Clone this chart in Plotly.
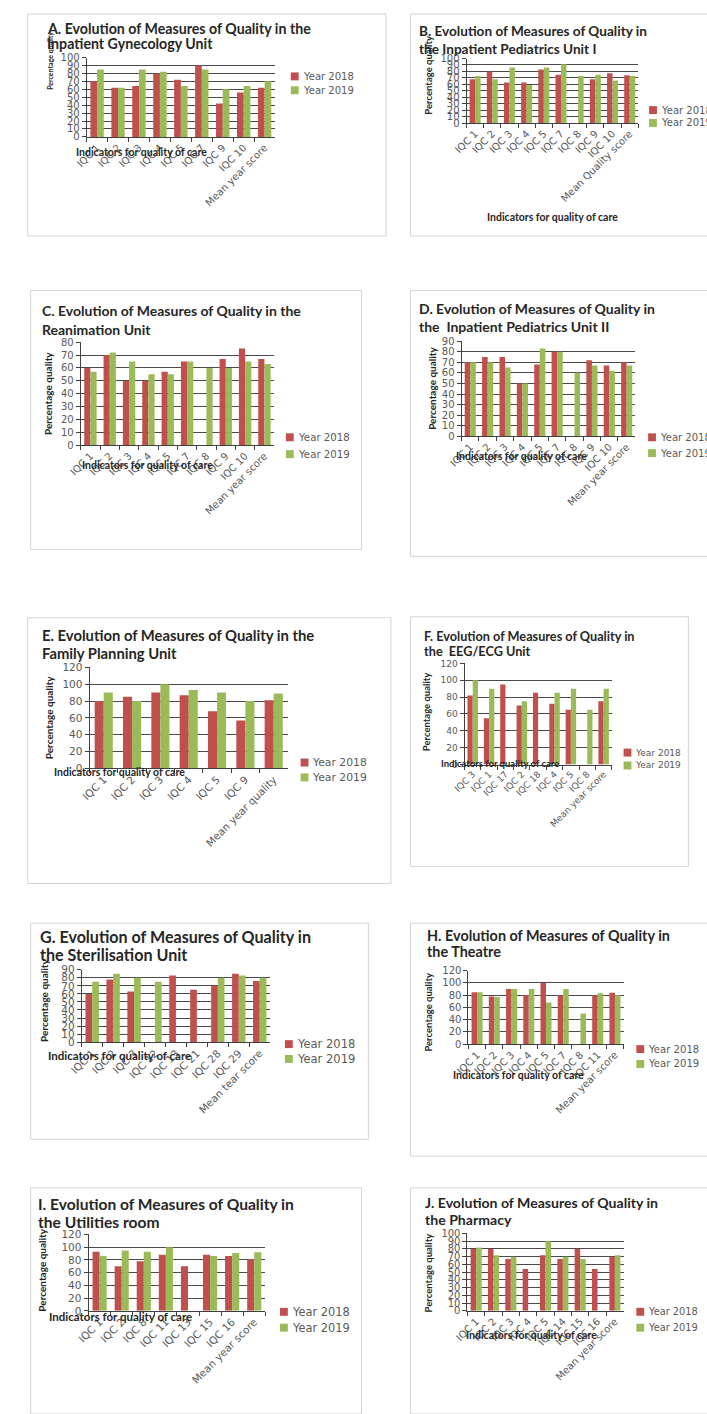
import plotly.graph_objects as go

# ---------------- data ----------------
cats_a = ["IQC 1", "IQC 2", "IQC 3", "IQC 4", "IQC 5", "IQC 7", "IQC 9", "IQC 10", "Mean year score"]
y2018_a = [70, 62, 64, 80, 72, 90, 42, 56, 62]
y2019_a = [85, 62, 85, 82, 64, 85, 60, 64, 70]

cats_b = ["IQC 1", "IQC 2", "IQC 3", "IQC 4", "IQC 5", "IQC 7", "IQC 8", "IQC 9", "IQC 10", "Mean Quality score"]
y2018_b = [68, 80, 63, 63, 83, 75, None, 68, 77, 74]
y2019_b = [73, 68, 86, 59, 86, 91, 73, 75, 66, 73]

cats_c = ["IQC 1", "IQC 2", "IQC 3", "IQC 4", "IQC 5", "IQC 7", "IQC 8", "IQC 9", "IQC 10", "Mean year score"]
y2018_c = [60, 70, 50, 50, 57, 65, None, 67, 75, 67]
y2019_c = [57, 72, 65, 55, 55, 65, 60, 60, 65, 63]

cats_d = ["IQC 1", "IQC 2", "IQC 3", "IQC 4", "IQC 5", "IQC 7", "IQC 8", "IQC 9", "IQC 10", "Mean year score"]
y2018_d = [70, 75, 75, 50, 68, 80, None, 72, 67, 70]
y2019_d = [70, 70, 65, 50, 83, 80, 60, 67, 62, 67]

cats_e = ["IQC 1", "IQC 2", "IQC 3", "IQC 4", "IQC 5", "IQC 9", "Mean year quality"]
y2018_e = [80, 85, 90, 87, 68, 57, 81]
y2019_e = [90, 80, 100, 93, 90, 80, 89]

cats_f = ["IQC 3", "IQC 1", "IQC 17", "IQC 2", "IQC 18", "IQC 4", "IQC 5", "IQC 8", "Mean year score"]
y2018_f = [82, 55, 95, 70, 85, 72, 65, None, 75]
y2019_f = [100, 90, None, 75, None, 85, 90, 65, 90]

cats_g = ["IQC 1", "IQC 2", "IQC 3", "IQC 12", "IQC 13", "IQC 21", "IQC 28", "IQC 29", "Mean tear score"]
y2018_g = [60, 78, 63, None, 83, 65, 70, 85, 76]
y2019_g = [75, 85, 80, 75, None, None, 80, 83, 80]

cats_h = ["IQC 1", "IQC 2", "IQC 3", "IQC 4", "IQC 5", "IQC 7", "IQC 8", "IQC 11", "Mean year score"]
y2018_h = [85, 78, 90, 80, 100, 80, None, 80, 84]
y2019_h = [85, 77, 90, 90, 68, 90, 50, 83, 80]

cats_i = ["IQC 1", "IQC 2", "IQC 8", "IQC 11", "IQC 13", "IQC 15", "IQC 16", "Mean year score"]
y2018_i = [93, 70, 78, 88, 70, 88, 86, 81]
y2019_i = [86, 95, 93, 100, None, 86, 91, 92]

cats_j = ["IQC 1", "IQC 2", "IQC 3", "IQC 4", "IQC 5", "IQC 14", "IQC 15", "IQC 16", "Mean year score"]
y2018_j = [80, 80, 67, 54, 72, 67, 80, 54, 70]
y2019_j = [82, 72, 70, None, 90, 70, 67, None, 72]

titles = [
    ("A. Evolution of Measures of Quality in the", "Inpatient Gynecology Unit"),
    ("B. Evolution of Measures of Quality in", "the Inpatient Pediatrics Unit I"),
    ("C. Evolution of Measures of Quality in the", "Reanimation Unit"),
    ("D. Evolution of Measures of Quality in", "the  Inpatient Pediatrics Unit II"),
    ("E. Evolution of Measures of Quality in the", "Family Planning Unit"),
    ("F. Evolution of Measures of Quality in", "the  EEG/ECG Unit"),
    ("G. Evolution of Measures of Quality in", "the Sterilisation Unit"),
    ("H. Evolution of Measures of Quality in", "the Theatre"),
    ("I. Evolution of Measures of Quality in", "the Utilities room"),
    ("J. Evolution of Measures of Quality in", "the Pharmacy"),
]
series_names = ["Year 2018", "Year 2019"]
y_title = "Percentage quality"
x_title = "Indicators for quality of care"

panels_data = [
    (cats_a, y2018_a, y2019_a), (cats_b, y2018_b, y2019_b),
    (cats_c, y2018_c, y2019_c), (cats_d, y2018_d, y2019_d),
    (cats_e, y2018_e, y2019_e), (cats_f, y2018_f, y2019_f),
    (cats_g, y2018_g, y2019_g), (cats_h, y2018_h, y2019_h),
    (cats_i, y2018_i, y2019_i), (cats_j, y2018_j, y2019_j),
]

# ---------------- geometry (pixels) ----------------
W, H = 707, 1414
# box, plot area (x0, x1, ytop, ybottom), y max, y step
geom = [
    dict(box=(15, 8, 380, 232), plot=(75, 267, 52, 132), ymax=100, dtick=10,
         title=(33, 23, 38, 14.2), yt=(37, 55, 7), xt=(131, 147, 10.5), leg=(283, 71, 85, 10), tf=10),
    dict(box=(405, 8, 720, 232), plot=(462, 637, 53, 118), ymax=100, dtick=10,
         title=(412, 25, 43, 13.6), yt=(423, 70, 9.5), xt=(550, 213, 10.5), leg=(648, 105, 118, 10), tf=10),
    dict(box=(18, 287, 355, 548), plot=(69, 266, 339, 443), ymax=80, dtick=10,
         title=(27, 307, 326, 14.0), yt=(35, 391, 10), xt=(137, 463, 10.5), leg=(278, 435, 452, 10.2), tf=10),
    dict(box=(405, 287, 720, 555), plot=(457, 634, 338, 434), ymax=90, dtick=10,
         title=(412, 305, 323, 14.0), yt=(427, 386, 10), xt=(518, 454, 10.5), leg=(647, 435, 451, 10), tf=10),
    dict(box=(15, 617, 385, 885), plot=(78, 280, 667, 769), ymax=120, dtick=20,
         title=(28, 634, 653, 14.8), yt=(37, 718, 10), xt=(108, 773, 10.5), leg=(293, 763, 778, 10.8), tf=10.5),
    dict(box=(405, 616, 688, 868), plot=(460, 610, 663, 765), ymax=120, dtick=20,
         title=(417, 635, 651, 12.7), yt=(422, 712, 9.5), xt=(496, 764, 9.5), leg=(622, 753, 766, 9), tf=9),
    dict(box=(18, 925, 362, 1143), plot=(70, 262, 972, 1045), ymax=90, dtick=10,
         title=(25, 938, 957, 16.1), yt=(32, 1003, 10), xt=(108, 1058, 11.5), leg=(277, 1047, 1062, 11.5), tf=10.5),
    dict(box=(405, 925, 720, 1160), plot=(464, 622, 973, 1047), ymax=120, dtick=20,
         title=(420, 937, 954, 14.4), yt=(423, 1015, 9.5), xt=(515, 1078, 10.5), leg=(635, 1052, 1067, 10.1), tf=10),
    dict(box=(18, 1192, 355, 1420), plot=(77, 257, 1239, 1316), ymax=120, dtick=20,
         title=(23, 1208, 1226, 15.6), yt=(30, 1275, 10), xt=(110, 1322, 11.5), leg=(272, 1317, 1333, 11.4), tf=10.5),
    dict(box=(405, 1192, 720, 1420), plot=(463, 622, 1238, 1316), ymax=100, dtick=10,
         title=(418, 1207, 1224, 14.1), yt=(423, 1278, 9.5), xt=(528, 1340, 10.5), leg=(635, 1317, 1333, 9.8), tf=10),
]

RED = "#C0504D"
GREEN = "#9BBB59"
AXIS = "#404040"
GRID = "#4a4a4a"
TICK_TXT = "#595959"
TXT = "#262626"
TITLE_FONT = "Lato"
TICK_FONT = "DejaVu Sans"


def px(x):
    return x / W


def py(y):
    return 1 - y / H


fig = go.Figure()
shapes, annotations, layout_axes = [], [], {}

for i, ((cats, v18, v19), g, (t1, t2)) in enumerate(zip(panels_data, geom, titles)):
    n = i + 1
    xa = "x" if n == 1 else f"x{n}"
    ya = "y" if n == 1 else f"y{n}"
    for name, vals, col in ((series_names[0], v18, RED), (series_names[1], v19, GREEN)):
        fig.add_trace(go.Bar(x=cats, y=vals, name=name, marker=dict(color=col, line=dict(width=0)),
                             xaxis=xa, yaxis=ya, showlegend=False))

    x0, x1, yt, yb = g["plot"]
    tf = g["tf"]
    layout_axes["xaxis" if n == 1 else f"xaxis{n}"] = dict(
        domain=[px(x0), px(x1)], anchor=ya, type="category",
        range=[-0.5, len(cats) - 0.5], showline=True, linecolor=AXIS, linewidth=1,
        ticks="outside", ticklen=4, tickcolor=AXIS, tickson="boundaries",
        tickangle=-45, tickfont=dict(family=TICK_FONT, size=tf, color=TICK_TXT),
        showgrid=False, zeroline=False)
    layout_axes["yaxis" if n == 1 else f"yaxis{n}"] = dict(
        domain=[py(yb), py(yt)], anchor=xa, range=[0, g["ymax"]], dtick=g["dtick"],
        tick0=0, showline=True, linecolor=AXIS, linewidth=1, ticks="outside",
        ticklen=4, tickcolor=AXIS, showgrid=True, gridcolor=GRID, gridwidth=1,
        zeroline=False, tickfont=dict(family=TICK_FONT, size=tf, color=TICK_TXT))

    # panel frame
    bx0, by0, bx1, by1 = g["box"]
    shapes.append(dict(type="rect", xref="paper", yref="paper",
                       x0=px(bx0), x1=px(bx1), y0=py(by1), y1=py(by0),
                       line=dict(color="#D4D4D4", width=1), fillcolor="rgba(0,0,0,0)", layer="below"))

    # panel title (two lines)
    tx, ty1, ty2, ts = g["title"]
    for line, yy in ((t1, ty1), (t2, ty2)):
        annotations.append(dict(text=f"<b>{line}</b>", x=px(tx), y=py(yy), xref="paper", yref="paper",
                                xanchor="left", yanchor="middle", showarrow=False,
                                font=dict(family=TITLE_FONT, size=ts, color=TXT)))

    # axis titles
    ytx, ytc, yts = g["yt"]
    annotations.append(dict(text=f"<b>{y_title}</b>", x=px(ytx), y=py(ytc), xref="paper", yref="paper",
                            xanchor="center", yanchor="middle", textangle=-90, showarrow=False,
                            font=dict(family=TITLE_FONT, size=yts, color=TXT)))
    xtc, xty, xts = g["xt"]
    annotations.append(dict(text=f"<b>{x_title}</b>", x=px(xtc), y=py(xty), xref="paper", yref="paper",
                            xanchor="center", yanchor="middle", showarrow=False,
                            font=dict(family=TITLE_FONT, size=xts, color=TXT)))

    # legend: coloured square + label
    lx, ly1, ly2, ls = g["leg"]
    sq = 8
    for name, yy, col in ((series_names[0], ly1, RED), (series_names[1], ly2, GREEN)):
        shapes.append(dict(type="rect", xref="paper", yref="paper",
                           x0=px(lx), x1=px(lx + sq), y0=py(yy + sq / 2), y1=py(yy - sq / 2),
                           line=dict(width=0), fillcolor=col))
        annotations.append(dict(text=name, x=px(lx + sq + 2), y=py(yy), xref="paper", yref="paper",
                                xanchor="left", yanchor="middle", showarrow=False,
                                font=dict(family=TICK_FONT, size=ls, color=TICK_TXT)))

fig.update_layout(
    width=W, height=H, autosize=False,
    margin=dict(l=0, r=0, t=0, b=0),
    paper_bgcolor="white", plot_bgcolor="white",
    barmode="group", bargap=0.36, bargroupgap=0,
    shapes=shapes, annotations=annotations, showlegend=False,
    **layout_axes,
)

fig.write_html("out.html")
